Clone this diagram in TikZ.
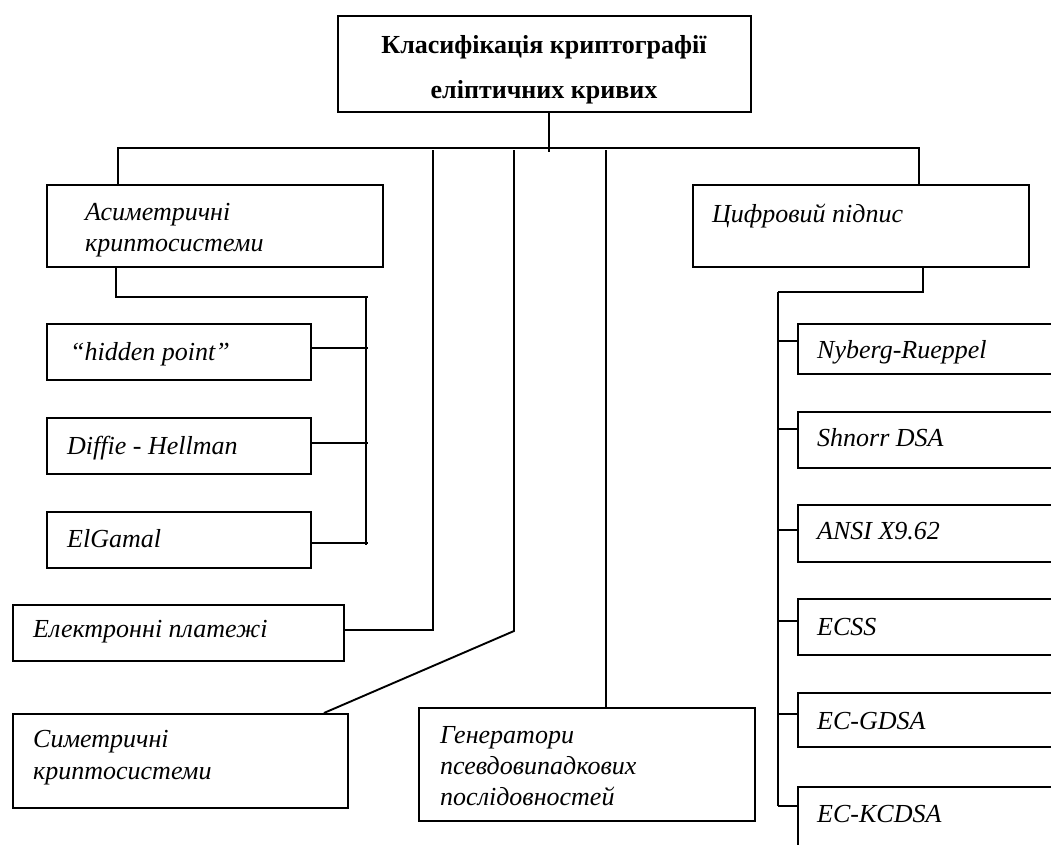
\documentclass[tikz,border=0pt]{standalone}
\usepackage{fontspec}
\setmainfont{Liberation Serif}
\usetikzlibrary{calc}
\begin{document}
\begin{tikzpicture}[x=1pt,y=-1pt,
  box/.style={draw,line width=1.9pt,inner sep=0pt,anchor=north west},
  conn/.style={draw,line width=1.9pt},
  lbl/.style={font=\fontsize{26}{31}\selectfont\itshape,inner sep=0pt,anchor=west,align=left}]
\useasboundingbox (0,0) rectangle (1051,844);
\clip (0,0) rectangle (1051,844);
\fill[white] (0,0) rectangle (1051,844);
% boxes
\node[box,minimum width=413,minimum height=96] (title) at (337,15) {};
\node[box,minimum width=336,minimum height=82] (asym) at (46,184) {};
\node[box,minimum width=336,minimum height=82] (sign) at (692,184) {};
\node[box,minimum width=264,minimum height=56] (hidden) at (46,323) {};
\node[box,minimum width=264,minimum height=56] (dh) at (46,417) {};
\node[box,minimum width=264,minimum height=56] (elg) at (46,511) {};
\node[box,minimum width=331,minimum height=56] (epay) at (12,604) {};
\node[box,minimum width=335,minimum height=94] (sym) at (12,713) {};
\node[box,minimum width=336,minimum height=113] (gen) at (418,707) {};
\node[box,minimum width=280,minimum height=50] (nr) at (797,323) {};
\node[box,minimum width=280,minimum height=56] (sh) at (797,411) {};
\node[box,minimum width=280,minimum height=57] (ansi) at (797,504) {};
\node[box,minimum width=280,minimum height=56] (ecss) at (797,598) {};
\node[box,minimum width=280,minimum height=54] (gdsa) at (797,692) {};
\node[box,minimum width=280,minimum height=80] (kcdsa) at (797,786) {};
% labels
\node[font=\fontsize{26}{45}\selectfont\bfseries,align=center,inner sep=0pt] (ttitle) at (544,69.5)
      {Класифікація криптографії\\еліптичних кривих};
\node[lbl] (tasym) at (85,230.5) {Асиметричні\\криптосистеми};
\node[lbl] (tsign) at (712,216) {Цифровий підпис};
\node[lbl] (thid) at (70,354) {“hidden point”};
\node[lbl] (tdh) at (67,448) {Diffie - Hellman};
\node[lbl] (telg) at (67,539) {ElGamal};
\node[lbl] (tepay) at (33,632) {Електронні платежі};
\node[lbl,font=\fontsize{26}{32}\selectfont\itshape] (tsym) at (33,757.5) {Симетричні\\криптосистеми};
\node[lbl] (tgen) at (440,766) {Генератори\\псевдовипадкових\\послідовностей};
\node[lbl] (tnr) at (817,352) {Nyberg-Rueppel};
\node[lbl] (tsh) at (817,438) {Shnorr DSA};
\node[lbl] (tansi) at (817,531) {ANSI X9.62};
\node[lbl] (tecss) at (817,627) {ECSS};
\node[lbl] (tgdsa) at (817,721) {EC-GDSA};
\node[lbl] (tkc) at (817,814) {EC-KCDSA};
% bus coordinates
\coordinate (trunk) at (549,152);
\coordinate (b1) at (433,150);
\coordinate (b2) at (514,150);
\coordinate (b3) at (606,150);
\coordinate (bend) at (514,631);
\coordinate (lv) at (366,297);
\coordinate (lvEnd) at (366,545);
\coordinate (rv) at (778,292);
\coordinate (rvEnd) at (778,806);
% connectors
\draw[conn] (title.south -| trunk) -- (trunk);
\draw[conn] ($(asym.north west)+(72,0)$) |- ($(sign.north west)+(227,-36)$) -- ($(sign.north west)+(227,0)$);
\draw[conn] ($(epay.north east)+(0,26)$) -| (b1);
\draw[conn] ($(sym.north east)+(-25,0)$) -- (bend) -- (b2);
\draw[conn] (gen.north -| b3) -- (b3);
% asymmetric group
\draw[conn] ($(asym.south west)+(70,0)$) |- ($(lv)+(2,0)$);
\draw[conn] (lv) -- (lvEnd);
\draw[conn] ($(hidden.north east)+(0,25)$) -- ++(56,0);
\draw[conn] ($(dh.north east)+(0,26)$) -- ++(56,0);
\draw[conn] ($(elg.north east)+(0,32)$) -- ++(56,0);
% signature group
\draw[conn] ($(sign.south west)+(231,0)$) |- (rv);
\draw[conn] (rv) -- (rvEnd);
\draw[conn] ($(nr.north west)+(0,18)$) -- ++(-19,0);
\draw[conn] ($(sh.north west)+(0,18)$) -- ++(-19,0);
\draw[conn] ($(ansi.north west)+(0,26)$) -- ++(-19,0);
\draw[conn] ($(ecss.north west)+(0,23)$) -- ++(-19,0);
\draw[conn] ($(gdsa.north west)+(0,22)$) -- ++(-19,0);
\draw[conn] ($(kcdsa.north west)+(0,20)$) -- ++(-19,0);
\end{tikzpicture}
\end{document}
